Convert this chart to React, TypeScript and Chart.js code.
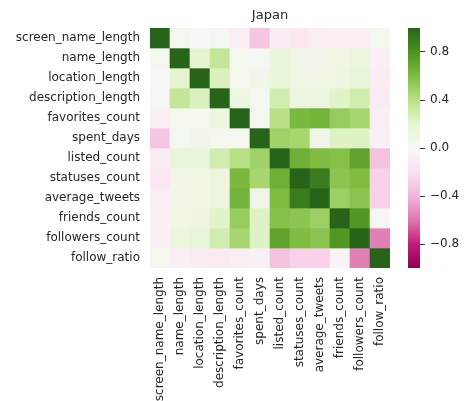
import React, { useEffect, useRef } from "react";
import { Chart, registerables } from "chart.js";

Chart.register(...registerables);

const FONT = "'DejaVu Sans', sans-serif";
const TEXT = "#262626";
const W = 469;
const H = 401;

const title = "Japan";

const labels = [
  "screen_name_length",
  "name_length",
  "location_length",
  "description_length",
  "favorites_count",
  "spent_days",
  "listed_count",
  "statuses_count",
  "average_tweets",
  "friends_count",
  "followers_count",
  "follow_ratio",
];

const screenNameLength = [1.0, 0.04, 0.0, 0.03, -0.08, -0.33, -0.1, -0.15, -0.08, -0.07, -0.07, 0.05];
const nameLength = [0.04, 1.0, 0.2, 0.35, 0.05, 0.03, 0.15, 0.08, 0.08, 0.1, 0.14, -0.07];
const locationLength = [0.0, 0.2, 1.0, 0.25, 0.05, 0.07, 0.15, 0.1, 0.1, 0.11, 0.16, -0.1];
const descriptionLength = [0.03, 0.35, 0.25, 1.0, 0.12, 0.05, 0.29, 0.13, 0.13, 0.22, 0.29, -0.11];
const favoritesCount = [-0.08, 0.05, 0.05, 0.12, 1.0, 0.05, 0.4, 0.62, 0.64, 0.52, 0.46, -0.09];
const spentDays = [-0.33, 0.03, 0.07, 0.05, 0.05, 1.0, 0.48, 0.46, 0.08, 0.23, 0.23, -0.06];
const listedCount = [-0.1, 0.15, 0.15, 0.29, 0.4, 0.48, 1.0, 0.66, 0.6, 0.58, 0.72, -0.35];
const statusesCount = [-0.15, 0.08, 0.1, 0.13, 0.62, 0.46, 0.66, 1.0, 0.9, 0.55, 0.6, -0.27];
const averageTweets = [-0.08, 0.08, 0.1, 0.13, 0.64, 0.08, 0.6, 0.9, 1.0, 0.5, 0.56, -0.27];
const friendsCount = [-0.07, 0.1, 0.11, 0.22, 0.52, 0.23, 0.58, 0.55, 0.5, 1.0, 0.78, -0.03];
const followersCount = [-0.07, 0.14, 0.16, 0.29, 0.46, 0.23, 0.72, 0.6, 0.56, 0.78, 1.0, -0.57];
const followRatio = [0.05, -0.07, -0.1, -0.11, -0.09, -0.06, -0.35, -0.27, -0.27, -0.03, -0.57, 1.0];

const matrix = [
  screenNameLength,
  nameLength,
  locationLength,
  descriptionLength,
  favoritesCount,
  spentDays,
  listedCount,
  statusesCount,
  averageTweets,
  friendsCount,
  followersCount,
  followRatio,
];

const colorbarRange = [-1, 1];
const colorbarTicks = [0.8, 0.4, 0.0, -0.4, -0.8];

// PiYG colormap stops from -1 to 1
const piyg = [
  [142, 1, 82],
  [197, 27, 125],
  [222, 119, 174],
  [241, 182, 218],
  [253, 224, 239],
  [247, 247, 247],
  [230, 245, 208],
  [184, 225, 134],
  [127, 188, 65],
  [77, 146, 33],
  [39, 100, 25],
];

function colorFor(v: number): string {
  const t = Math.max(0, Math.min(1, (v - colorbarRange[0]) / (colorbarRange[1] - colorbarRange[0]))) * (piyg.length - 1);
  const i = Math.min(piyg.length - 2, Math.floor(t));
  const f = t - i;
  const a = piyg[i];
  const b = piyg[i + 1];
  const c = a.map((x, k) => Math.round(x + (b[k] - x) * f));
  return `rgb(${c[0]},${c[1]},${c[2]})`;
}

export default function App() {
  const heatRef = useRef<HTMLCanvasElement | null>(null);
  const barRef = useRef<HTMLCanvasElement | null>(null);

  useEffect(() => {
    const heat = new Chart(heatRef.current as HTMLCanvasElement, {
      type: "bar",
      data: {
        labels,
        datasets: matrix.map((row, r) => ({
          label: labels[r],
          data: row.map(() => 1),
          backgroundColor: row.map(colorFor),
          borderWidth: 0,
          barPercentage: 1,
          categoryPercentage: 1,
        })),
      },
      options: {
        responsive: false,
        animation: false,
        layout: { padding: { left: 0, right: 79, top: 0, bottom: 0 } },
        plugins: {
          legend: { display: false },
          tooltip: { enabled: false },
          title: {
            display: true,
            text: title,
            fullSize: false,
            color: TEXT,
            font: { family: FONT, size: 13, weight: "normal", lineHeight: 1.2 },
            padding: { top: 8, bottom: 4.4 },
          },
        },
        scales: {
          x: {
            stacked: true,
            grid: { display: false, drawTicks: false },
            border: { display: false },
            ticks: {
              autoSkip: false,
              minRotation: 90,
              maxRotation: 90,
              padding: 9,
              color: TEXT,
              font: { family: FONT, size: 12 },
            },
            afterFit: (s: any) => {
              s.height = 133;
            },
          },
          y: {
            stacked: true,
            reverse: true,
            min: 0,
            max: labels.length,
            grid: { display: false, drawTicks: false },
            border: { display: false },
            afterBuildTicks: (s: any) => {
              s.ticks = labels.map((_, i) => ({ value: i + 0.5 }));
            },
            ticks: {
              padding: 10,
              color: TEXT,
              font: { family: FONT, size: 12 },
              callback: (v: any) => labels[Math.floor(Number(v))],
            },
            afterFit: (s: any) => {
              s.width = 150;
            },
          },
        },
      },
    });

    const bar = new Chart(barRef.current as HTMLCanvasElement, {
      type: "bar",
      data: {
        labels: [""],
        datasets: [
          {
            data: [colorbarRange as any],
            backgroundColor: (ctx: any) => {
              const area = ctx.chart.chartArea;
              if (!area) return "#f7f7f7";
              const g = ctx.chart.ctx.createLinearGradient(0, area.bottom, 0, area.top);
              piyg.forEach((c, i) => g.addColorStop(i / (piyg.length - 1), `rgb(${c[0]},${c[1]},${c[2]})`));
              return g;
            },
            borderWidth: 0,
            barPercentage: 1,
            categoryPercentage: 1,
          },
        ],
      },
      options: {
        responsive: false,
        animation: false,
        layout: { padding: { left: 18, right: 0, top: 28, bottom: 133 } },
        plugins: { legend: { display: false }, tooltip: { enabled: false }, title: { display: false } },
        scales: {
          x: { display: false },
          y: {
            position: "right",
            min: colorbarRange[0],
            max: colorbarRange[1],
            afterBuildTicks: (s: any) => {
              s.ticks = colorbarTicks.map((v) => ({ value: v }));
            },
            grid: { drawOnChartArea: false, drawTicks: true, tickLength: 5, tickColor: "#3a3a3a", tickWidth: 1 },
            border: { display: false },
            ticks: {
              padding: 5,
              color: TEXT,
              font: { family: FONT, size: 12 },
              callback: (v: any) => Number(v).toFixed(1).replace("-", "\u2212"),
            },
            afterFit: (s: any) => {
              s.width = 49;
            },
          },
        },
      },
    });

    return () => {
      heat.destroy();
      bar.destroy();
    };
  }, []);

  return (
    <div style={{ position: "fixed", left: 0, top: 0, width: W, height: H, background: "#fff" }}>
      <canvas ref={heatRef} width={W} height={H} style={{ position: "absolute", left: 0, top: 0 }} />
      <canvas ref={barRef} width={79} height={H} style={{ position: "absolute", left: 390, top: 0 }} />
    </div>
  );
}
